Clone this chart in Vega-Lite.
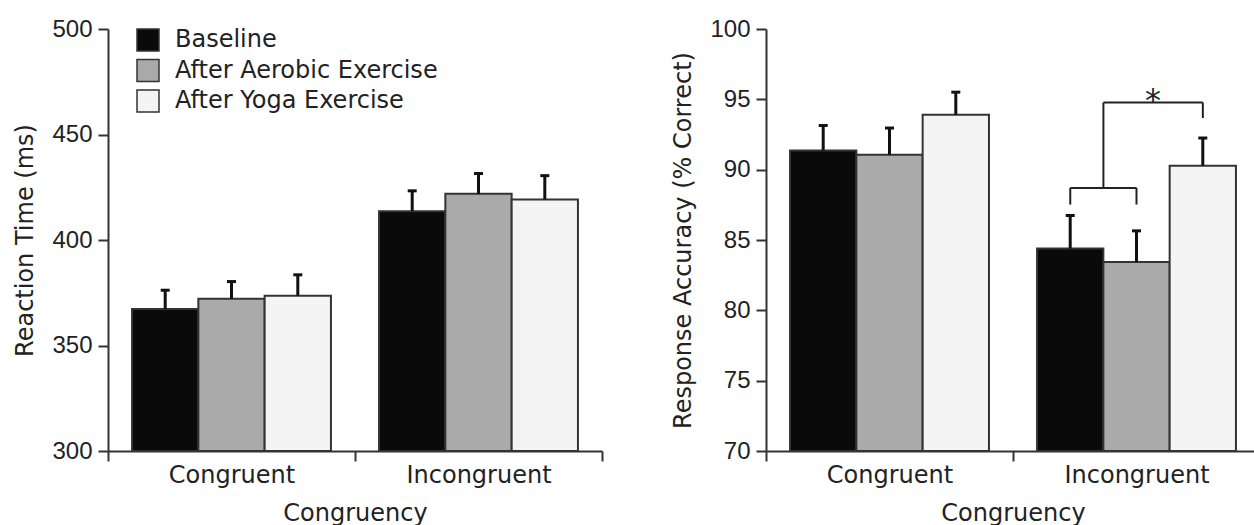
{
  "$schema": "https://vega.github.io/schema/vega-lite/v6.json",
  "background": "white",
  "padding": {"left": 13, "top": 17, "right": 0, "bottom": 0},
  "datasets": {
    "rt": [
      {"Congruency": "Congruent", "Condition": "Baseline", "mean": 367.3, "upper": 376.2},
      {"Congruency": "Congruent", "Condition": "After Aerobic Exercise", "mean": 372.2, "upper": 380.3},
      {"Congruency": "Congruent", "Condition": "After Yoga Exercise", "mean": 373.6, "upper": 383.5},
      {"Congruency": "Incongruent", "Condition": "Baseline", "mean": 413.6, "upper": 423.3},
      {"Congruency": "Incongruent", "Condition": "After Aerobic Exercise", "mean": 421.9, "upper": 431.5},
      {"Congruency": "Incongruent", "Condition": "After Yoga Exercise", "mean": 419.2, "upper": 430.5}
    ],
    "acc": [
      {"Congruency": "Congruent", "Condition": "Baseline", "mean": 91.37, "upper": 93.14},
      {"Congruency": "Congruent", "Condition": "After Aerobic Exercise", "mean": 91.06, "upper": 92.96},
      {"Congruency": "Congruent", "Condition": "After Yoga Exercise", "mean": 93.9, "upper": 95.51},
      {"Congruency": "Incongruent", "Condition": "Baseline", "mean": 84.4, "upper": 86.74},
      {"Congruency": "Incongruent", "Condition": "After Aerobic Exercise", "mean": 83.43, "upper": 85.65},
      {"Congruency": "Incongruent", "Condition": "After Yoga Exercise", "mean": 90.28, "upper": 92.25}
    ]
  },
  "config": {
    "view": {"stroke": null},
    "font": "DejaVu Sans",
    "concat": {"spacing": 68},
    "axis": {
      "grid": false,
      "domainColor": "#333",
      "domainWidth": 2,
      "tickColor": "#333",
      "tickWidth": 2,
      "tickSize": 10,
      "labelColor": "#222",
      "titleColor": "#222",
      "labelFont": "DejaVu Sans",
      "titleFont": "DejaVu Sans",
      "labelFontSize": 24,
      "titleFontSize": 24,
      "titleFontWeight": "normal"
    },
    "axisY": {"labelFont": "Liberation Sans", "labelPadding": 6, "titlePadding": 14},
    "axisX": {"labelAngle": 0, "labelPadding": 2, "titlePadding": 14, "tickBand": "extent"}
  },
  "resolve": {"scale": {"color": "independent"}},
  "hconcat": [
    {
      "width": 494,
      "height": 422,
      "data": {"name": "rt"},
      "encoding": {
        "x": {"field": "Congruency", "type": "nominal", "sort": ["Congruent", "Incongruent"],
              "scale": {"paddingInner": 0, "paddingOuter": 0}, "title": "Congruency"},
        "xOffset": {"field": "Condition", "type": "nominal",
                    "sort": ["Baseline", "After Aerobic Exercise", "After Yoga Exercise"],
                    "scale": {"paddingInner": 0, "paddingOuter": 0.3627}}
      },
      "layer": [
        {
          "mark": {"type": "bar", "stroke": "#333", "strokeWidth": 2, "opacity": 1},
          "encoding": {
            "y": {"field": "mean", "type": "quantitative", "title": "Reaction Time (ms)",
                  "scale": {"domain": [300, 500], "zero": false, "nice": false},
                  "axis": {"values": [300, 350, 400, 450, 500]}},
            "y2": {"datum": 300},
            "color": {"field": "Condition", "type": "nominal",
                      "scale": {"domain": ["Baseline", "After Aerobic Exercise", "After Yoga Exercise"],
                                "range": ["#0a0a0a", "#aaaaaa", "#f4f4f4"]},
                      "legend": {"orient": "none", "legendX": 28, "legendY": -1, "title": null,
                                 "symbolType": "square", "symbolSize": 484, "symbolStrokeColor": "#333",
                                 "symbolStrokeWidth": 1.5, "labelFont": "DejaVu Sans", "labelFontSize": 24,
                                 "labelColor": "#222", "labelOffset": 15, "labelLimit": 500,
                                 "rowPadding": 2.5, "padding": 0, "symbolOpacity": 1}}
          }
        },
        {
          "mark": {"type": "rule", "color": "#111", "strokeWidth": 3},
          "encoding": {
            "y": {"field": "mean", "type": "quantitative"},
            "y2": {"field": "upper"}
          }
        },
        {
          "mark": {"type": "tick", "color": "#111", "thickness": 3, "size": 9, "opacity": 1},
          "encoding": {
            "y": {"field": "upper", "type": "quantitative"}
          }
        }
      ]
    },
    {
      "width": 494,
      "height": 422,
      "encoding": {
        "x": {"field": "Congruency", "type": "nominal", "sort": ["Congruent", "Incongruent"],
              "scale": {"paddingInner": 0, "paddingOuter": 0}, "title": "Congruency"}
      },
      "layer": [
        {
          "data": {"name": "acc"},
          "mark": {"type": "bar", "stroke": "#333", "strokeWidth": 2, "opacity": 1},
          "encoding": {
            "xOffset": {"field": "Condition", "type": "nominal",
                        "sort": ["Baseline", "After Aerobic Exercise", "After Yoga Exercise"],
                        "scale": {"paddingInner": 0, "paddingOuter": 0.3627}},
            "y": {"field": "mean", "type": "quantitative", "title": "Response Accuracy (% Correct)",
                  "scale": {"domain": [70, 100], "zero": false, "nice": false},
                  "axis": {"values": [70, 75, 80, 85, 90, 95, 100]}},
            "y2": {"datum": 70},
            "color": {"field": "Condition", "type": "nominal",
                      "scale": {"domain": ["Baseline", "After Aerobic Exercise", "After Yoga Exercise"],
                                "range": ["#0a0a0a", "#aaaaaa", "#f4f4f4"]},
                      "legend": null}
          }
        },
        {
          "data": {"name": "acc"},
          "mark": {"type": "rule", "color": "#111", "strokeWidth": 3},
          "encoding": {
            "xOffset": {"field": "Condition", "type": "nominal",
                        "sort": ["Baseline", "After Aerobic Exercise", "After Yoga Exercise"]},
            "y": {"field": "mean", "type": "quantitative"},
            "y2": {"field": "upper"}
          }
        },
        {
          "data": {"name": "acc"},
          "mark": {"type": "tick", "color": "#111", "thickness": 3, "size": 9, "opacity": 1},
          "encoding": {
            "xOffset": {"field": "Condition", "type": "nominal",
                        "sort": ["Baseline", "After Aerobic Exercise", "After Yoga Exercise"]},
            "y": {"field": "upper", "type": "quantitative"}
          }
        },
        {
          "data": {"values": [{"y": 87.52, "y2": 88.7}]},
          "mark": {"type": "rule", "color": "#222", "strokeWidth": 2},
          "encoding": {
            "x": {"datum": "Incongruent", "type": "nominal", "bandPosition": 0.2318},
            "y": {"field": "y", "type": "quantitative"},
            "y2": {"field": "y2"}
          }
        },
        {
          "data": {"values": [{"y": 87.52, "y2": 88.7}]},
          "mark": {"type": "rule", "color": "#222", "strokeWidth": 2},
          "encoding": {
            "x": {"datum": "Incongruent", "type": "nominal", "bandPosition": 0.5},
            "y": {"field": "y", "type": "quantitative"},
            "y2": {"field": "y2"}
          }
        },
        {
          "data": {"values": [{"y": 88.7, "y2": 94.77}]},
          "mark": {"type": "rule", "color": "#222", "strokeWidth": 2},
          "encoding": {
            "x": {"datum": "Incongruent", "type": "nominal", "bandPosition": 0.366},
            "y": {"field": "y", "type": "quantitative"},
            "y2": {"field": "y2"}
          }
        },
        {
          "data": {"values": [{"y": 93.67, "y2": 94.77}]},
          "mark": {"type": "rule", "color": "#222", "strokeWidth": 2},
          "encoding": {
            "x": {"datum": "Incongruent", "type": "nominal", "bandPosition": 0.7686},
            "y": {"field": "y", "type": "quantitative"},
            "y2": {"field": "y2"}
          }
        },
        {
          "data": {"values": [{"y": 88.7}]},
          "mark": {"type": "rule", "color": "#222", "strokeWidth": 2},
          "encoding": {
            "x": {"datum": "Incongruent", "type": "nominal", "bandPosition": 0.2318},
            "x2": {"datum": "Incongruent", "bandPosition": 0.5},
            "y": {"field": "y", "type": "quantitative"}
          }
        },
        {
          "data": {"values": [{"y": 94.77}]},
          "mark": {"type": "rule", "color": "#222", "strokeWidth": 2},
          "encoding": {
            "x": {"datum": "Incongruent", "type": "nominal", "bandPosition": 0.366},
            "x2": {"datum": "Incongruent", "bandPosition": 0.7686},
            "y": {"field": "y", "type": "quantitative"}
          }
        },
        {
          "data": {"values": [{"label": "*", "y": 94.15}]},
          "mark": {"type": "text", "font": "DejaVu Sans", "fontSize": 32, "color": "#222", "baseline": "alphabetic"},
          "encoding": {
            "x": {"datum": "Incongruent", "type": "nominal", "bandPosition": 0.567},
            "y": {"field": "y", "type": "quantitative"},
            "text": {"field": "label"}
          }
        }
      ]
    }
  ]
}
